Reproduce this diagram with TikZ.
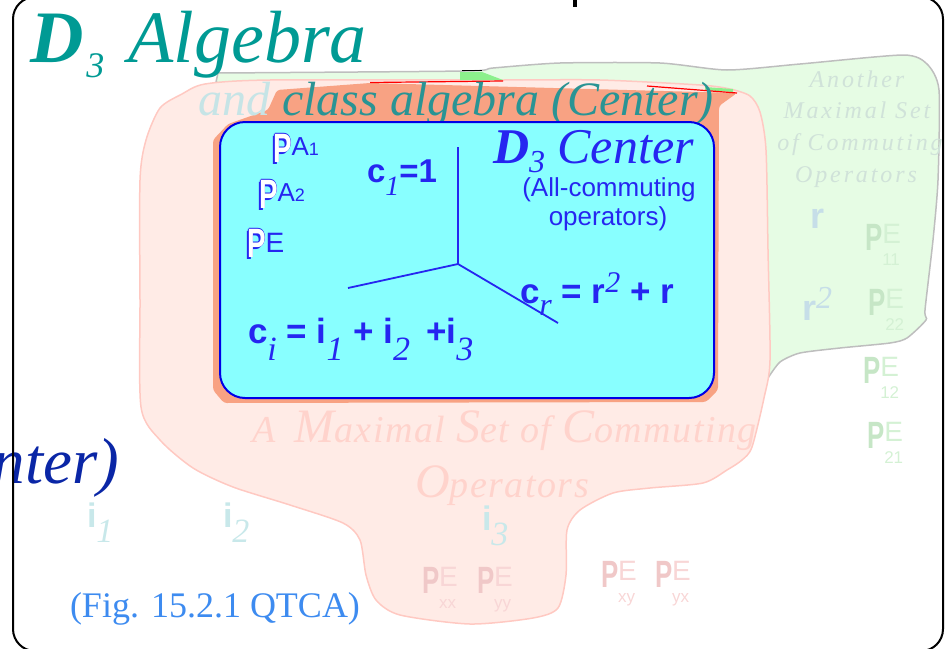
\documentclass[tikz,border=0pt]{standalone}
\usepackage{fontspec}
\setmainfont{Liberation Serif}
\setsansfont{Liberation Sans}
\newfontfamily\condsans{Liberation Sans}[FakeStretch=0.68]
\newfontfamily\spacedserif{Liberation Serif}[LetterSpace=12]
\newfontfamily\looseserif{Liberation Serif}[LetterSpace=4]
\usepackage{graphicx}

\definecolor{algteal}{HTML}{009A94}
\definecolor{bodyteal}{HTML}{2A9494}
\definecolor{andfade}{HTML}{C6E4E6}
\definecolor{cenblue}{HTML}{2626F0}
\definecolor{boxfill}{HTML}{88FFFF}
\definecolor{boxedge}{HTML}{0000E6}
\definecolor{salmon}{HTML}{F8A283}
\definecolor{pinkfill}{HTML}{FFEBE6}
\definecolor{pinkedge}{HTML}{FFC9C2}
\definecolor{greenfill}{HTML}{E6FCE4}
\definecolor{greenedge}{HTML}{BEBEBE}
\definecolor{brightgreen}{HTML}{8CF08C}
\definecolor{figblue}{HTML}{3D8BF0}
\definecolor{ntblue}{HTML}{0A26A6}
\definecolor{maxpink}{HTML}{FFD3CC}
\definecolor{anogreen}{HTML}{D0E2D9}
\definecolor{fadecyan}{HTML}{C8E8EA}
\definecolor{fadeblue}{HTML}{C6DEE8}
\definecolor{gP}{HTML}{C6E6C6}
\definecolor{gE}{HTML}{D4F1D4}
\definecolor{pP}{HTML}{F0C8C8}
\definecolor{pE}{HTML}{F8D6D6}

\newcommand{\fsz}[1]{\fontsize{#1}{#1}\selectfont}
\newcommand{\lowit}[3]{\raisebox{-#1pt}{\rmfamily\mdseries\itshape\fsz{#2}#3}}
% white P with blue rim and shadow
\newcommand{\boxP}{{\condsans\bfseries\fsz{41}%
  \makebox[0pt][l]{\kern-2pt\raisebox{-2pt}{\color{cenblue}P}}%
  \makebox[0pt][l]{\kern-0.9pt\color{cenblue}P}%
  \makebox[0pt][l]{\kern0.9pt\color{cenblue}P}%
  \makebox[0pt][l]{\raisebox{0.9pt}{\color{cenblue}P}}%
  \makebox[0pt][l]{\raisebox{-0.9pt}{\color{cenblue}P}}%
  \color{white}P}}
% faded P with E and index below
\newcommand{\fadePE}[3]{{\condsans\bfseries\fsz{38}\color{#1}P}%
  {\sffamily\fsz{28}\color{#2}\makebox[0pt][l]{\raisebox{-15pt}{\fsz{17}#3}}\raisebox{7pt}{E}}}

\tikzset{
  every node/.style={inner sep=0pt, outer sep=0pt},
  txt/.style={anchor=base west},
  ctxt/.style={anchor=base},
  blobline/.style={line width=1.5pt, line join=round},
  axisline/.style={draw=cenblue, line width=1.8pt},
}

\begin{document}
\begin{tikzpicture}[x=1pt, y=-1pt]
  \useasboundingbox (0,0) rectangle (949,648);

  \filldraw[blobline, fill=greenfill, draw=greenedge] (216,82) -- (218,73)
    -- plot[smooth, tension=0.4] coordinates {(218,73) (465,71) (493,68)
      (560,63) (660,63) (727,70) (800,64) (903,55) (927,64) (939,90) (938,180)
      (933,240) (925,310) (926,320) (907,338) (890,343) (840,348) (800,353)
      (780,362) (768,378)} -- (650,250) -- (300,110) -- cycle;
  \filldraw[blobline, fill=pinkfill, draw=pinkedge]
    plot[smooth cycle, tension=0.45] coordinates {(140,180) (146,140) (160,108)
      (182,94) (205,84) (270,80) (500,80) (600,80) (700,85) (730,89) (750,96)
      (760,112) (766,150) (768,250) (770,360) (764,398) (752,447) (742,460)
      (727,470) (703,483) (650,488) (613,493) (580,510) (567,530) (566,575)
      (558,608) (533,618) (470,624) (400,615) (376,600) (366,575) (360,540)
      (343,523) (290,505) (233,487) (193,468) (160,440) (141,407) (140,300)};
  \fill[salmon, rounded corners=3pt] (213,390) -- (213,140) -- (228,124) -- (268,110)
    -- (277,90) -- (370,83) -- (737,93) -- (719,106) -- (718,390) -- (706,402)
    -- (224,403) -- cycle;
  \fill[brightgreen] (460,72) -- (482,72) -- (503,80) -- (460,80) -- cycle;
  \fill[brightgreen] (705,87) -- (733,89) -- (733,92) -- (705,90) -- cycle;
  \draw[black, line width=1.2pt] (462,70.5) -- (482,70.5);
  \draw[red, line width=1.2pt] (370,82.5) -- (503,81);
  \draw[red, line width=1.2pt] (647,86) -- (737,93);

  \node[txt, text=bodyteal] (clsalg) at (198,115)
    {\fsz{48}\itshape\textcolor{andfade}{and} class algebra (Center)};
  \node[txt, text=algteal] (algtitle) at (30,62)
    {\fsz{74}\textbf{\textit{D}}\hspace{3pt}\lowit{15}{36}{3}\hspace{24pt}\textit{Algebra}};

  \draw[draw=boxedge, fill=boxfill, line width=2pt, rounded corners=25pt]
    (220,122) rectangle (714,398);

  \coordinate (hub) at (458,264);
  \coordinate (ctop) at (458,147);
  \coordinate (cleft) at (348,288);
  \coordinate (cright) at (558,323);
  \draw[axisline] (hub) -- (ctop);
  \draw[axisline] (hub) -- (cleft);
  \draw[axisline] (hub) -- (cright);

  \node[txt, text=cenblue] (centitle) at (493,163)
    {\fsz{50}\textbf{\textit{D}}\lowit{9}{32}{3}\textit{ Center}};
  \node[ctxt, text=cenblue] (allcom) at (609,196) {\sffamily\fsz{26}(All-commuting};
  \node[ctxt, text=cenblue] (allops) at (608,225) {\sffamily\fsz{26}operators)};

  \node[txt] (pa1) at (273,162)
    {\boxP\raisebox{7pt}{\sffamily\fsz{26}\color{cenblue}A\fsz{18}1}};
  \node[txt] (pa2) at (259,208)
    {\boxP\raisebox{7pt}{\sffamily\fsz{26}\color{cenblue}A\fsz{18}2}};
  \node[txt] (pe) at (247,257)
    {\boxP\raisebox{5pt}{\sffamily\fsz{28}\color{cenblue}E}};

  \node[txt, text=cenblue] (cone) at (367,182)
    {\sffamily\bfseries\fsz{33}c\lowit{13}{28}{1}=1};
  \node[txt, text=cenblue] (crr) at (520,303)
    {\sffamily\bfseries\fsz{35}c\lowit{12}{32}{r} = r\raisebox{11pt}{\rmfamily\mdseries\itshape\fsz{30}2} + r};
  \node[txt, text=cenblue] (cii) at (248,343)
    {\sffamily\bfseries\fsz{35}c\lowit{17}{34}{i} = i\lowit{17}{34}{1} + i\lowit{17}{34}{2}\hspace{16pt}+i\lowit{17}{34}{3}};

  % faded labels
  \node[txt, text=maxpink] (maxset) at (252,442)
    {\looseserif\itshape\fsz{38}A\hspace{8pt} {\fsz{48}M}aximal {\fsz{48}S}et of {\fsz{48}C}ommuting};
  \node[txt, text=maxpink] (maxops) at (415,497)
    {\looseserif\itshape\fsz{38}{\fsz{48}O}perators};

  \node[ctxt, text=anogreen] (ano1) at (857,87) {\spacedserif\itshape\fsz{24}Another};
  \node[ctxt, text=anogreen] (ano2) at (857,118) {\spacedserif\itshape\fsz{24}Maximal Set};
  \node[ctxt, text=anogreen] (ano3) at (860,150) {\spacedserif\itshape\fsz{24}of Commuting};
  \node[ctxt, text=anogreen] (ano4) at (856,182) {\spacedserif\itshape\fsz{24}Operators};

  \node[txt, text=fadeblue] (rr) at (810,228) {\sffamily\bfseries\fsz{36}r};
  \node[txt, text=fadeblue] (rsq) at (802,320)
    {\sffamily\bfseries\fsz{36}r\raisebox{12pt}{\rmfamily\mdseries\itshape\fsz{32}2}};

  \node[txt] (pe11) at (865,250) {\fadePE{gP}{gE}{11}};
  \node[txt] (pe22) at (868,315) {\fadePE{gP}{gE}{22}};
  \node[txt] (pe12) at (863,383) {\fadePE{gP}{gE}{12}};
  \node[txt] (pe21) at (867,448) {\fadePE{gP}{gE}{21}};

  \node[txt] (pexx) at (422,593) {\fadePE{pP}{pE}{xx}};
  \node[txt] (peyy) at (477,593) {\fadePE{pP}{pE}{yy}};
  \node[txt] (pexy) at (601,587) {\fadePE{pP}{pE}{xy}};
  \node[txt] (peyx) at (655,587) {\fadePE{pP}{pE}{yx}};

  \node[txt, text=fadecyan] (ione) at (87,527) {\sffamily\bfseries\fsz{34}i\lowit{15}{34}{1}};
  \node[txt, text=fadecyan] (itwo) at (223,527) {\sffamily\bfseries\fsz{34}i\lowit{15}{34}{2}};
  \node[txt, text=fadecyan] (ithree) at (482,530) {\sffamily\bfseries\fsz{34}i\lowit{15}{34}{3}};

  \node[anchor=base east, text=ntblue] (nter) at (119,483) {\fsz{65}\itshape nter)};
  \node[txt, text=figblue] (figref) at (70,617) {\fsz{36}(Fig. 15.2.1 QTCA)};

  \draw[black, line width=2pt, rounded corners=22pt] (13,-3) rectangle (943,651);
  \coordinate (tickA) at (575,-1);
  \coordinate (tickB) at (575,7);
  \draw[black, line width=4pt] (tickA) -- (tickB);
\end{tikzpicture}
\end{document}
